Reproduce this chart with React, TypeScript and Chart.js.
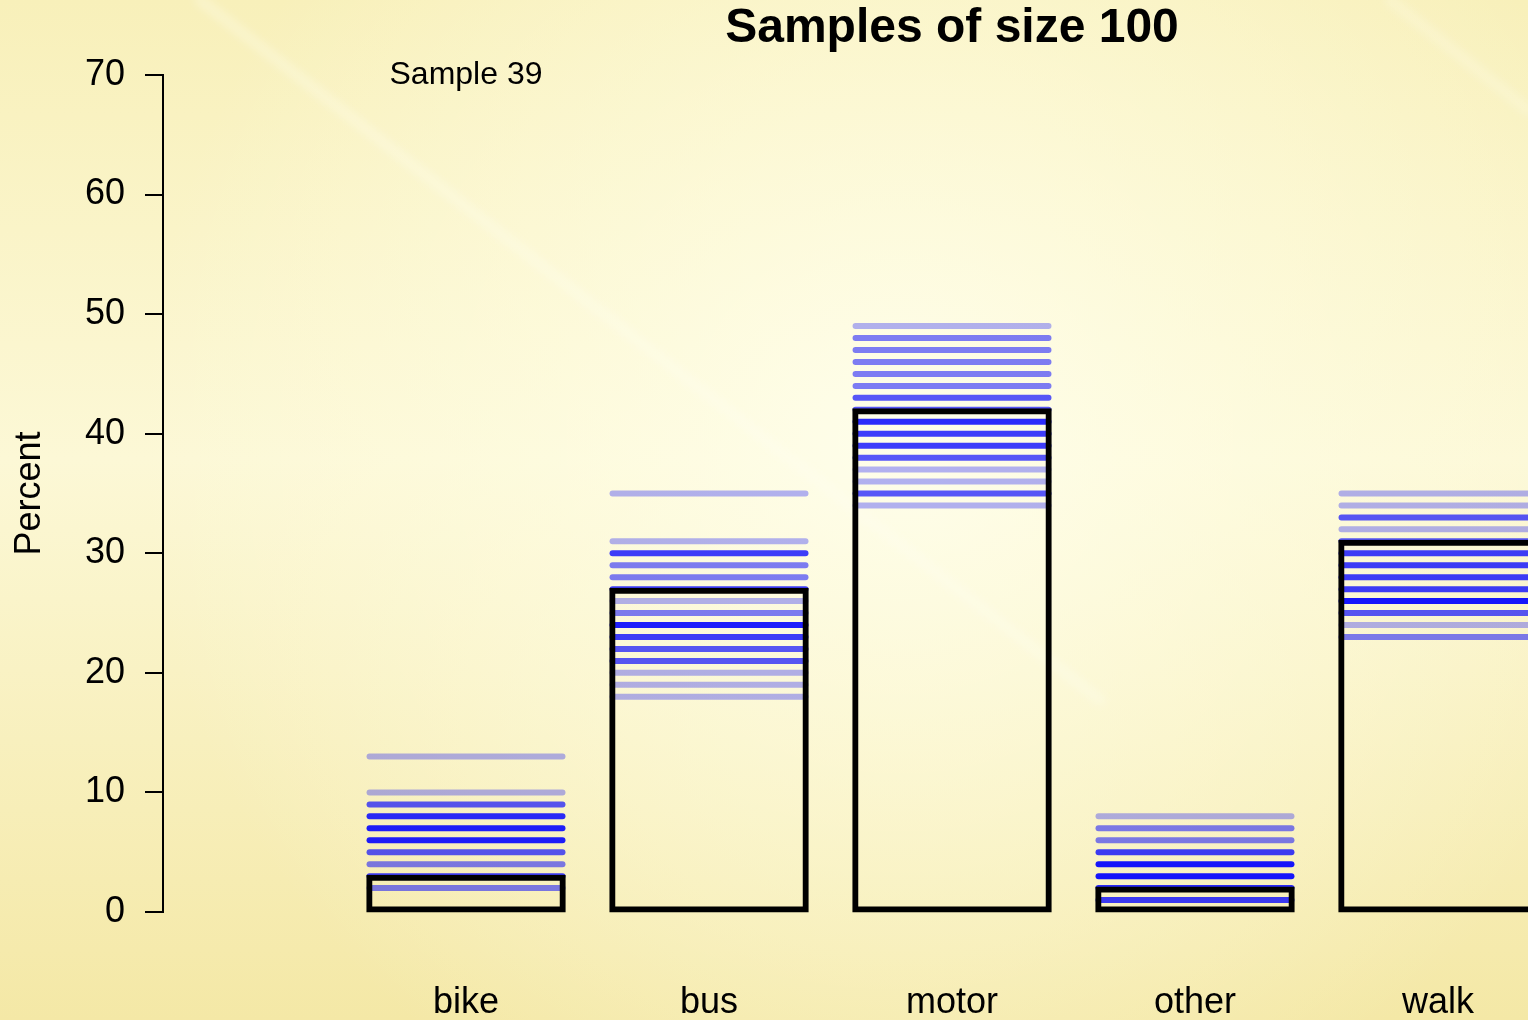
import React, { useEffect, useRef } from 'react';
import { Chart, registerables } from 'chart.js';

Chart.register(...registerables);

// ---------- data ----------
const categories = ['bike', 'bus', 'motor', 'other', 'walk'];
const currentSample = [3, 27, 42, 2, 31];
const sampleLabel = 'Sample 39';
const titleText = 'Samples of size 100';
const yAxisLabel = 'Percent';
const yTicks = [0, 10, 20, 30, 40, 50, 60, 70];

// earlier samples: percent level and how many samples hit it
const bikeLevels = [13, 10, 9, 8, 7, 6, 5, 4, 3, 2];
const bikeCounts = [1, 1, 3, 5, 6, 6, 3, 2, 4, 2];
const busLevels = [35, 31, 30, 29, 28, 27, 26, 25, 24, 23, 22, 21, 20, 19, 18];
const busCounts = [1, 1, 4, 2, 2, 4, 1, 2, 6, 4, 3, 3, 1, 1, 1];
const motorLevels = [49, 48, 47, 46, 45, 44, 43, 42, 41, 40, 39, 38, 37, 36, 35, 34];
const motorCounts = [1, 2, 2, 2, 2, 2, 3, 3, 5, 4, 4, 3, 1, 1, 3, 1];
const otherLevels = [8, 7, 6, 5, 4, 3, 2, 1];
const otherCounts = [1, 2, 2, 4, 7, 7, 5, 4];
const walkLevels = [35, 34, 33, 32, 31, 30, 29, 28, 27, 26, 25, 24, 23];
const walkCounts = [1, 1, 3, 1, 3, 4, 4, 4, 4, 7, 3, 1, 2];

const levelSets = [bikeLevels, busLevels, motorLevels, otherLevels, walkLevels];
const countSets = [bikeCounts, busCounts, motorCounts, otherCounts, walkCounts];

// ---------- style ----------
const FONT = '"Liberation Sans", Arial, Helvetica, sans-serif';
const X_MIN = -0.247;
const X_MAX = 5.3704;
const LINE_HALF = 0.397;
const SAMPLE_ALPHA = 0.3;

function stackedBlue(n: number): string {
  const a = 1 - Math.pow(1 - SAMPLE_ALPHA, n);
  return `rgba(0,0,255,${a.toFixed(3)})`;
}

const backgroundPlugin = {
  id: 'paperBackground',
  beforeDraw(chart: any) {
    const { ctx, width, height } = chart;
    ctx.save();
    const lin = ctx.createLinearGradient(0, 0, 0, height);
    lin.addColorStop(0, '#f8f0ba');
    lin.addColorStop(0.45, '#fcf8d6');
    lin.addColorStop(1, '#f4e8a6');
    ctx.fillStyle = lin;
    ctx.fillRect(0, 0, width, height);
    const rad = ctx.createRadialGradient(900, 440, 0, 900, 440, 760);
    rad.addColorStop(0, 'rgba(255,255,238,0.85)');
    rad.addColorStop(0.5, 'rgba(255,254,230,0.45)');
    rad.addColorStop(1, 'rgba(255,254,230,0)');
    ctx.fillStyle = rad;
    ctx.fillRect(0, 0, width, height);
    // faint diagonal light streaks
    const streaks = [
      [200, 0, 1100, 700, 12, 0.28],
      [1390, 0, 1528, 110, 12, 0.22],
    ];
    ctx.filter = 'blur(4px)';
    ctx.lineCap = 'round';
    for (const [x0, y0, x1, y1, w, a] of streaks) {
      ctx.strokeStyle = `rgba(255,255,245,${a})`;
      ctx.lineWidth = w;
      ctx.beginPath();
      ctx.moveTo(x0, y0);
      ctx.lineTo(x1, y1);
      ctx.stroke();
    }
    ctx.filter = 'none';
    ctx.restore();
  },
};

const textPlugin = {
  id: 'plotTexts',
  afterDraw(chart: any) {
    const { ctx } = chart;
    const xs = chart.scales.x;
    const ys = chart.scales.y;
    ctx.save();
    ctx.fillStyle = '#000';
    ctx.textAlign = 'center';
    ctx.textBaseline = 'middle';
    ctx.font = `bold 48px ${FONT}`;
    ctx.fillText(titleText, xs.getPixelForValue(3), 29);
    ctx.font = `32px ${FONT}`;
    ctx.fillText(sampleLabel, xs.getPixelForValue(1), ys.getPixelForValue(70));
    ctx.restore();
  },
};

export default function App() {
  const canvasRef = useRef<HTMLCanvasElement | null>(null);

  useEffect(() => {
    const canvas = canvasRef.current;
    if (!canvas) return;

    const lineDatasets: any[] = [];
    levelSets.forEach((levels, ci) => {
      levels.forEach((lv, li) => {
        lineDatasets.push({
          type: 'line',
          data: [
            { x: ci + 1 - LINE_HALF, y: lv },
            { x: ci + 1 + LINE_HALF, y: lv },
          ],
          borderColor: stackedBlue(countSets[ci][li]),
          borderWidth: 6,
          borderCapStyle: 'round',
          pointRadius: 0,
          pointHoverRadius: 0,
          fill: false,
          tension: 0,
          order: 2,
        });
      });
    });

    const barDataset = {
      type: 'bar',
      data: currentSample.map((v, i) => ({ x: i + 1, y: v })),
      backgroundColor: 'rgba(0,0,0,0)',
      borderColor: '#000',
      borderWidth: 3,
      inflateAmount: 1.5,
      borderSkipped: false,
      barThickness: 196.5,
      clip: false,
      order: 1,
    };

    const chart = new Chart(canvas, {
      type: 'bar',
      data: { datasets: [barDataset as any, ...lineDatasets] },
      options: {
        animation: false,
        responsive: false,
        devicePixelRatio: 1,
        layout: { padding: { top: 75, left: 0, right: 0, bottom: 0 } },
        plugins: {
          legend: { display: false },
          tooltip: { enabled: false },
          title: { display: false },
        },
        scales: {
          x: {
            type: 'linear',
            min: X_MIN,
            max: X_MAX,
            offset: false,
            border: { display: false },
            grid: { display: false, drawTicks: false, offset: false },
            afterBuildTicks: (s: any) => {
              s.ticks = categories.map((_, i) => ({ value: i + 1 }));
            },
            afterFit: (s: any) => {
              s.height = 108;
              s.paddingLeft = 0;
              s.paddingRight = 0;
            },
            ticks: {
              autoSkip: false,
              maxRotation: 0,
              padding: 69,
              color: '#000',
              font: { family: FONT, size: 36 },
              callback: (v: any) => categories[Math.round(Number(v)) - 1] ?? '',
            },
          },
          y: {
            type: 'linear',
            min: 0,
            max: 70,
            afterBuildTicks: (s: any) => {
              s.ticks = yTicks.map((v) => ({ value: v }));
            },
            afterFit: (s: any) => {
              s.width = 163;
            },
            border: { display: true, color: '#000', width: 2 },
            grid: {
              display: true,
              drawOnChartArea: false,
              drawTicks: true,
              tickLength: 18,
              color: '#000',
              lineWidth: 2,
            },
            ticks: {
              padding: 20,
              color: '#000',
              font: { family: FONT, size: 36 },
            },
            title: {
              display: true,
              text: yAxisLabel,
              color: '#000',
              font: { family: FONT, size: 36 },
              padding: { top: 8, bottom: 0 },
            },
          },
        },
      } as any,
      plugins: [backgroundPlugin, textPlugin],
    });

    return () => chart.destroy();
  }, []);

  return (
    <div
      style={{
        position: 'fixed',
        left: 0,
        top: 0,
        width: 1528,
        height: 1020,
        overflow: 'hidden',
      }}
    >
      <canvas
        ref={canvasRef}
        width={1528}
        height={1020}
        style={{ display: 'block', width: 1528, height: 1020 }}
      />
    </div>
  );
}
